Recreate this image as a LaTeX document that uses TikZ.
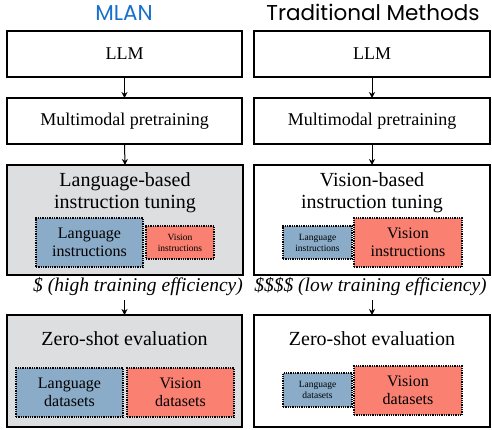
\documentclass[tikz,border=0pt]{standalone}
\usepackage{fontspec}
\setmainfont{Liberation Serif}
\newfontfamily\titlefont{Poppins}
\usetikzlibrary{arrows.meta}
\definecolor{mlanblue}{RGB}{24,112,204}
\definecolor{langfill}{RGB}{138,172,200}
\definecolor{visfill}{RGB}{250,128,114}
\definecolor{panelgray}{RGB}{221,222,224}
\tikzset{
  stagebox/.style={draw=black, line width=1.4pt, inner sep=0pt, outer sep=0pt},
  subbox/.style={draw=black, line width=1.3pt, densely dotted, inner sep=0pt, outer sep=0pt, align=center},
  langbox/.style={subbox, fill=langfill},
  visbox/.style={subbox, fill=visfill},
  bigtxt/.style={font=\fontsize{18}{20}\selectfont},
  headtxt/.style={font=\fontsize{20}{21.5}\selectfont, align=center, inner sep=0pt},
  midtxt/.style={font=\fontsize{16}{18}\selectfont},
  smalltxt/.style={font=\fontsize{9.5}{11}\selectfont},
  costtxt/.style={font=\fontsize{19.5}{21}\selectfont\itshape, inner sep=0pt},
  coltitle/.style={font=\fontsize{21.5}{23}\selectfont\titlefont, inner sep=0pt, anchor=base},
  flow/.style={line width=1pt, -{Stealth[length=6pt,width=6pt]}}
}
\begin{document}
\begin{tikzpicture}[x=1pt, y=-1pt]
\useasboundingbox (0,0) rectangle (492,430);

% column headings
\node[coltitle, text=mlanblue] (titleL) at (124,20.5) {MLAN};
\node[coltitle] (titleR) at (373,20.5) {Traditional Methods};

% ---- left column ----
\node[stagebox, minimum width=235pt, minimum height=46pt, bigtxt] (llmL) at (124.5,54) {LLM};
\node[stagebox, minimum width=235pt, minimum height=46pt, bigtxt] (mpL) at (124.5,121) {Multimodal pretraining};
\node[stagebox, fill=panelgray, minimum width=236pt, minimum height=110pt] (tuneL) at (125,220) {};
\node[headtxt] (tuneLtxt) at (125,192.5) {Language-based\\instruction tuning};
\node[langbox, minimum width=107pt, minimum height=49pt, midtxt] (insLangL) at (89.5,242.5) {Language\\instructions};
\node[visbox, minimum width=68pt, minimum height=33pt, smalltxt] (insVisL) at (180,242.5) {Vision\\instructions};
\node[costtxt] (costL) at (138,287) {\$ (high training efficiency)};
\coordinate (costLfoot) at (124.5,300);
\node[stagebox, fill=panelgray, minimum width=235pt, minimum height=112pt] (evalL) at (124.5,371) {};
\node[headtxt] (evalLtxt) at (124.5,339) {Zero-shot evaluation};
\node[langbox, minimum width=107pt, minimum height=49pt, midtxt] (dsLangL) at (69.5,392.5) {Language\\datasets};
\node[visbox, minimum width=107pt, minimum height=49pt, midtxt] (dsVisL) at (180.5,392.5) {Vision\\datasets};

\draw[flow] (llmL.south) -- (mpL.north);
\draw[flow] (mpL.south) -- (tuneL.north);
\draw[flow] (costLfoot) -- (evalL.north);

% ---- right column ----
\node[stagebox, minimum width=236pt, minimum height=46pt, bigtxt] (llmR) at (372,54) {LLM};
\node[stagebox, minimum width=236pt, minimum height=46pt, bigtxt] (mpR) at (372,121) {Multimodal pretraining};
\node[stagebox, minimum width=236pt, minimum height=110pt] (tuneR) at (372,220) {};
\node[headtxt] (tuneRtxt) at (372,192.5) {Vision-based\\instruction tuning};
\node[langbox, minimum width=69pt, minimum height=33pt, smalltxt] (insLangR) at (317.5,242.5) {Language\\instructions};
\node[visbox, minimum width=108pt, minimum height=49pt, midtxt] (insVisR) at (408,242.5) {Vision\\instructions};
\node[costtxt] (costR) at (370.5,287) {\$\$\$\$ (low training efficiency)};
\coordinate (costRfoot) at (372,300);
\node[stagebox, minimum width=236pt, minimum height=112pt] (evalR) at (372,371) {};
\node[headtxt] (evalRtxt) at (372,339) {Zero-shot evaluation};
\node[langbox, minimum width=69pt, minimum height=34pt, smalltxt] (dsLangR) at (317.5,390) {Language\\datasets};
\node[visbox, minimum width=108pt, minimum height=49pt, midtxt] (dsVisR) at (408,390.5) {Vision\\datasets};

\draw[flow] (llmR.south) -- (mpR.north);
\draw[flow] (mpR.south) -- (tuneR.north);
\draw[flow] (costRfoot) -- (evalR.north);
\end{tikzpicture}
\end{document}
